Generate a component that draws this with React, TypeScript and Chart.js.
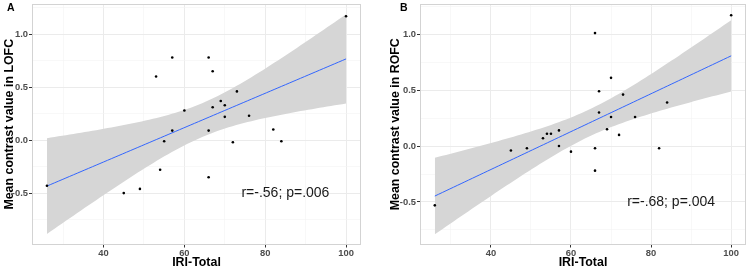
import React, { useEffect, useRef } from "react";
import { Chart, registerables } from "chart.js";

Chart.register(...registerables);
Chart.defaults.font.family = '"Liberation Sans", Arial, Helvetica, sans-serif';

// ---- data ----
const iriTotal = [26, 45, 49, 53, 54, 55, 57, 57, 60, 66, 66, 66, 67, 67, 69, 70, 70, 72, 73, 76, 82, 84, 100];
const lofcContrast = [-0.43, -0.5, -0.46, 0.6, -0.28, -0.01, 0.78, 0.09, 0.28, 0.78, 0.09, -0.35, 0.65, 0.31, 0.37, 0.33, 0.22, -0.02, 0.46, 0.23, 0.1, -0.01, 1.17];
const rofcContrast = [-0.53, -0.04, -0.02, 0.07, 0.11, 0.11, 0.14, 0.0, -0.05, 1.01, -0.02, -0.22, 0.49, 0.3, 0.15, 0.61, 0.26, 0.1, 0.46, 0.26, -0.02, 0.39, 1.17];

const xMajorTicks = [40, 60, 80, 100];
const xMinorTicks = [30, 50, 70, 90];
const yMajorTicks = [-0.5, 0, 0.5, 1.0];
const yMinorTicks = [-0.75, -0.25, 0.25, 0.75, 1.25];

const xLimits = [22.3, 103.7];
const yLimitsA = [-0.985, 1.285];
const yLimitsB = [-0.88, 1.27];

const xTitle = "IRI-Total";
const yTitles = ["Mean contrast value in LOFC", "Mean contrast value in ROFC"];
const panelLetters = ["A", "B"];
const statLabels = ["r=-.56; p=.006", "r=-.68; p=.004"];
const statLabelAt = [85, -0.5];

// t quantile (0.975) for df = 21 (n = 23)
const T_CRIT = 2.0796;

function linearFit(xs: number[], ys: number[]) {
  const n = xs.length;
  const xbar = xs.reduce((a, b) => a + b, 0) / n;
  const ybar = ys.reduce((a, b) => a + b, 0) / n;
  let sxx = 0, sxy = 0;
  for (let i = 0; i < n; i++) {
    sxx += (xs[i] - xbar) ** 2;
    sxy += (xs[i] - xbar) * (ys[i] - ybar);
  }
  const slope = sxy / sxx;
  const intercept = ybar - slope * xbar;
  let sse = 0;
  for (let i = 0; i < n; i++) sse += (ys[i] - (intercept + slope * xs[i])) ** 2;
  const s = Math.sqrt(sse / (n - 2));
  const lo = Math.min(...xs), hi = Math.max(...xs);
  const line: { x: number; y: number }[] = [];
  const upper: { x: number; y: number }[] = [];
  const lower: { x: number; y: number }[] = [];
  const steps = 80;
  for (let k = 0; k < steps; k++) {
    const x = lo + ((hi - lo) * k) / (steps - 1);
    const yhat = intercept + slope * x;
    const half = T_CRIT * s * Math.sqrt(1 / n + (x - xbar) ** 2 / sxx);
    line.push({ x, y: yhat });
    upper.push({ x, y: yhat + half });
    lower.push({ x, y: yhat - half });
  }
  return { line, upper, lower };
}

const near = (v: number, arr: number[]) => arr.some((a) => Math.abs(a - v) < 1e-9);

type PanelProps = {
  ys: number[];
  yLimits: number[];
  yTitle: string;
  letter: string;
  stat: string;
  chartLeft: number;
  padRight: number;
  yTitlePad: number;
  letterX: number;
};

function Panel(p: PanelProps) {
  const ref = useRef<HTMLCanvasElement | null>(null);
  useEffect(() => {
    if (!ref.current) return;
    const fit = linearFit(iriTotal, p.ys);
    const decor = {
      id: "decor",
      afterDatasetsDraw(chart: any) {
        const { ctx, chartArea: a, scales } = chart;
        ctx.save();
        ctx.strokeStyle = "#d3d3d3";
        ctx.lineWidth = 1;
        ctx.strokeRect(Math.round(a.left) + 0.5, Math.round(a.top) + 0.5, Math.round(a.right - a.left) - 1, Math.round(a.bottom - a.top) - 1);
        ctx.fillStyle = "#1a1a1a";
        ctx.font = '14px "Liberation Sans", Arial, sans-serif';
        ctx.textAlign = "center";
        ctx.textBaseline = "middle";
        ctx.fillText(p.stat, scales.x.getPixelForValue(statLabelAt[0]), scales.y.getPixelForValue(statLabelAt[1]));
        ctx.restore();
      },
      afterDraw(chart: any) {
        const { ctx } = chart;
        ctx.save();
        ctx.fillStyle = "#000";
        ctx.font = 'bold 10.5px "Liberation Sans", Arial, sans-serif';
        ctx.textAlign = "center";
        ctx.textBaseline = "middle";
        ctx.fillText(p.letter, p.letterX, 8);
        ctx.restore();
      },
    };
    const tickFont = { size: 9.4, weight: "bold" as const };
    const gridColor = (major: number[]) => (c: any) => (c.tick && near(c.tick.value, major) ? "#ebebeb" : "#f4f4f4");
    const gridWidth = (major: number[]) => (c: any) => (c.tick && near(c.tick.value, major) ? 1 : 0.6);
    const tickColor = (major: number[]) => (c: any) => (c.tick && near(c.tick.value, major) ? "#333333" : "rgba(0,0,0,0)");
    const chart = new Chart(ref.current, {
      type: "scatter",
      data: {
        datasets: [
          { data: fit.upper, showLine: true, pointRadius: 0, borderColor: "rgba(0,0,0,0)", borderWidth: 0, backgroundColor: "#d6d6d6", fill: "+1", order: 3 } as any,
          { data: fit.lower, showLine: true, pointRadius: 0, borderColor: "rgba(0,0,0,0)", borderWidth: 0, fill: false, order: 3 } as any,
          { data: fit.line, showLine: true, pointRadius: 0, borderColor: "#3366FF", borderWidth: 1, fill: false, order: 2 } as any,
          { data: iriTotal.map((x, i) => ({ x, y: p.ys[i] })), pointRadius: 1.3, pointBackgroundColor: "#000", pointBorderWidth: 0, showLine: false, order: 1 } as any,
        ],
      },
      options: {
        animation: false,
        responsive: false,
        events: [],
        layout: { padding: { left: 0, right: p.padRight, top: 4, bottom: 0 } },
        plugins: { legend: { display: false }, tooltip: { enabled: false } },
        scales: {
          x: {
            type: "linear",
            min: xLimits[0],
            max: xLimits[1],
            afterBuildTicks: (s: any) => {
              s.ticks = [...xMinorTicks, ...xMajorTicks].sort((a, b) => a - b).map((v) => ({ value: v }));
            },
            afterFit: (s: any) => {
              s.height = 24.5;
              s.paddingLeft = 0;
              s.paddingRight = 0;
            },
            ticks: {
              autoSkip: false,
              maxRotation: 0,
              padding: 0,
              color: "#4d4d4d",
              font: tickFont,
              callback: (v: any) => (near(Number(v), xMajorTicks) ? String(v) : ""),
            },
            grid: { color: gridColor(xMajorTicks), lineWidth: gridWidth(xMajorTicks), tickColor: tickColor(xMajorTicks), tickLength: 3, tickWidth: 1 },
            border: { display: false },
            title: { display: true, text: xTitle, color: "#000", font: { size: 12.4, weight: "bold", lineHeight: 1 }, padding: { top: 0, bottom: 0 } },
          },
          y: {
            type: "linear",
            min: p.yLimits[0],
            max: p.yLimits[1],
            afterBuildTicks: (s: any) => {
              s.ticks = [...yMinorTicks, ...yMajorTicks].sort((a, b) => a - b).map((v) => ({ value: v }));
            },
            afterFit: (s: any) => {
              s.width = p.chartLeft;
              s.paddingTop = 0;
              s.paddingBottom = 0;
            },
            ticks: {
              autoSkip: false,
              padding: 1,
              color: "#4d4d4d",
              font: tickFont,
              callback: (v: any) => (near(Number(v), yMajorTicks) ? Number(v).toFixed(1) : ""),
            },
            grid: { color: gridColor(yMajorTicks), lineWidth: gridWidth(yMajorTicks), tickColor: tickColor(yMajorTicks), tickLength: 3, tickWidth: 1 },
            border: { display: false },
            title: { display: true, text: p.yTitle, color: "#000", font: { size: 12.4, weight: "bold", lineHeight: 1 }, padding: { top: p.yTitlePad, bottom: 0 } },
          },
        },
      } as any,
      plugins: [decor],
    });
    return () => chart.destroy();
  }, []);
  return <canvas ref={ref} width={375} height={269} style={{ width: 375, height: 269, display: "block" }} />;
}

export default function App() {
  return (
    <div style={{ position: "absolute", left: 0, top: 0, width: 750, height: 269, display: "flex", background: "#fff" }}>
      <Panel ys={lofcContrast} yLimits={yLimitsA} yTitle={yTitles[0]} letter={panelLetters[0]} stat={statLabels[0]} chartLeft={32} padRight={14} yTitlePad={3.8} letterX={10.8} />
      <Panel ys={rofcContrast} yLimits={yLimitsB} yTitle={yTitles[1]} letter={panelLetters[1]} stat={statLabels[1]} chartLeft={45} padRight={2} yTitlePad={14.3} letterX={28.7} />
    </div>
  );
}
